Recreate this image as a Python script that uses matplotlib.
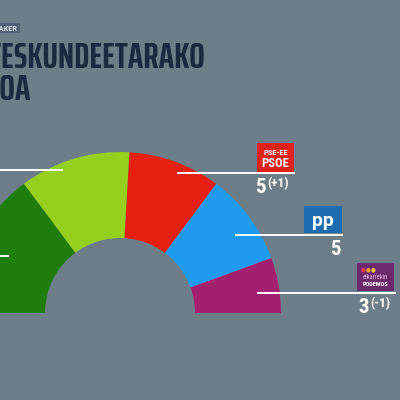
import matplotlib.pyplot as plt
from matplotlib.patches import Wedge, Rectangle

# seats per party, from right (0 deg) to left (180 deg)
parties = ['Elkarrekin Podemos', 'PP', 'PSE-EE PSOE', 'EH Bildu', 'EAJ-PNV']
seats = [3, 5, 5, 6, 8]
colors = ['#a3206e', '#1e9bef', '#e5200f', '#97cf1f', '#1f7d0b']

# labels shown on the right side
label_seats = ['3', '5', '5']
label_change = ['(-1)', '', '(+1)']

BG = '#6e7e88'
NAVY = '#1b2a3e'
TITLE_FONT = 'Saira ExtraCondensed'
NUM_FONT = 'Roboto Condensed'

fig = plt.figure(figsize=(4, 4), dpi=100)
fig.patch.set_facecolor(BG)
ax = fig.add_axes([0, 0, 1, 1])
ax.set_xlim(0, 400)
ax.set_ylim(400, 0)
ax.axis('off')
ax.set_facecolor(BG)

# half donut (y axis inverted -> negative angles go upwards)
cx, cy = 120, 313
r_out, r_in = 161, 75
total = sum(seats)
start = 0.0
for s, c in zip(seats, colors):
    span = 180.0 * s / total
    ax.add_patch(Wedge((cx, cy), r_out, -(start + span), -start,
                       width=r_out - r_in, facecolor=c, edgecolor='none'))
    start += span

# leader lines
lw = 1.4
ax.plot([0, 62], [170, 170], color='white', lw=lw)
ax.plot([0, 8], [256, 256], color='white', lw=lw)
ax.plot([178, 294], [173, 173], color='white', lw=lw)
ax.plot([236, 342], [235, 235], color='white', lw=lw)
ax.plot([258, 395], [293, 293], color='white', lw=lw)

# PSOE logo
ax.add_patch(Rectangle((257, 143), 37, 29, facecolor='#e0231a', edgecolor='none'))
ax.text(275.5, 152.5, 'PSE-EE', color='white', fontsize=6, fontweight='bold',
        family=NUM_FONT, ha='center', va='center')
ax.text(275.5, 163.5, 'PSOE', color='white', fontsize=9, fontweight='bold',
        family=NUM_FONT, ha='center', va='center')

# PP logo
ax.add_patch(Rectangle((304, 206), 38, 27, facecolor='#1e6db0', edgecolor='none'))
ax.text(323, 221, 'pp', color='white', fontsize=14, fontweight='bold',
        family='Roboto', ha='center', va='center')

# Podemos logo
ax.add_patch(Rectangle((357, 263), 37, 28, facecolor='#6c2a6c', edgecolor='none'))
for dx, dc in zip([0, 5, 10], ['#e8403a', '#f0a020', '#f2c830']):
    ax.text(363 + dx, 270, '\u25cf', color=dc, fontsize=4, ha='center', va='center')
ax.text(375.5, 277.5, 'elkarrekin', color='#e8b4e0', fontsize=4.8,
        family=NUM_FONT, ha='center', va='center')
ax.text(375.5, 285, 'PODEMOS', color='white', fontsize=4.5, fontweight='bold',
        family=NUM_FONT, ha='center', va='center')

# seat numbers
num_pos = [(358, 313), (330, 255), (255, 193)]
for (x, y), n, ch in zip(num_pos, label_seats, label_change):
    ax.text(x, y, n, color='white', fontsize=15, fontweight='bold',
            family=NUM_FONT, ha='left', va='baseline')
    if ch:
        ax.text(x + 12.5, y - 6, ch, color='white', fontsize=9.5, fontweight='bold',
                family=NUM_FONT, ha='left', va='baseline')

# header
ax.add_patch(Rectangle((-40, 23), 60, 10, facecolor='#4f6074', edgecolor='none'))
ax.text(17, 28.5, 'DATAMAKER', color='#d8dee6', fontsize=6, fontweight='bold',
        family=NUM_FONT, ha='right', va='center')
ax.text(205, 68, 'HAUTESKUNDEETARAKO', color=NAVY, fontsize=26.5,
        fontweight='bold', family=TITLE_FONT, ha='right', va='baseline')
ax.text(31, 100, 'GIPUZKOA', color=NAVY, fontsize=26.5,
        fontweight='bold', family=TITLE_FONT, ha='right', va='baseline')

fig.savefig('out.png', dpi=100, facecolor=BG)
